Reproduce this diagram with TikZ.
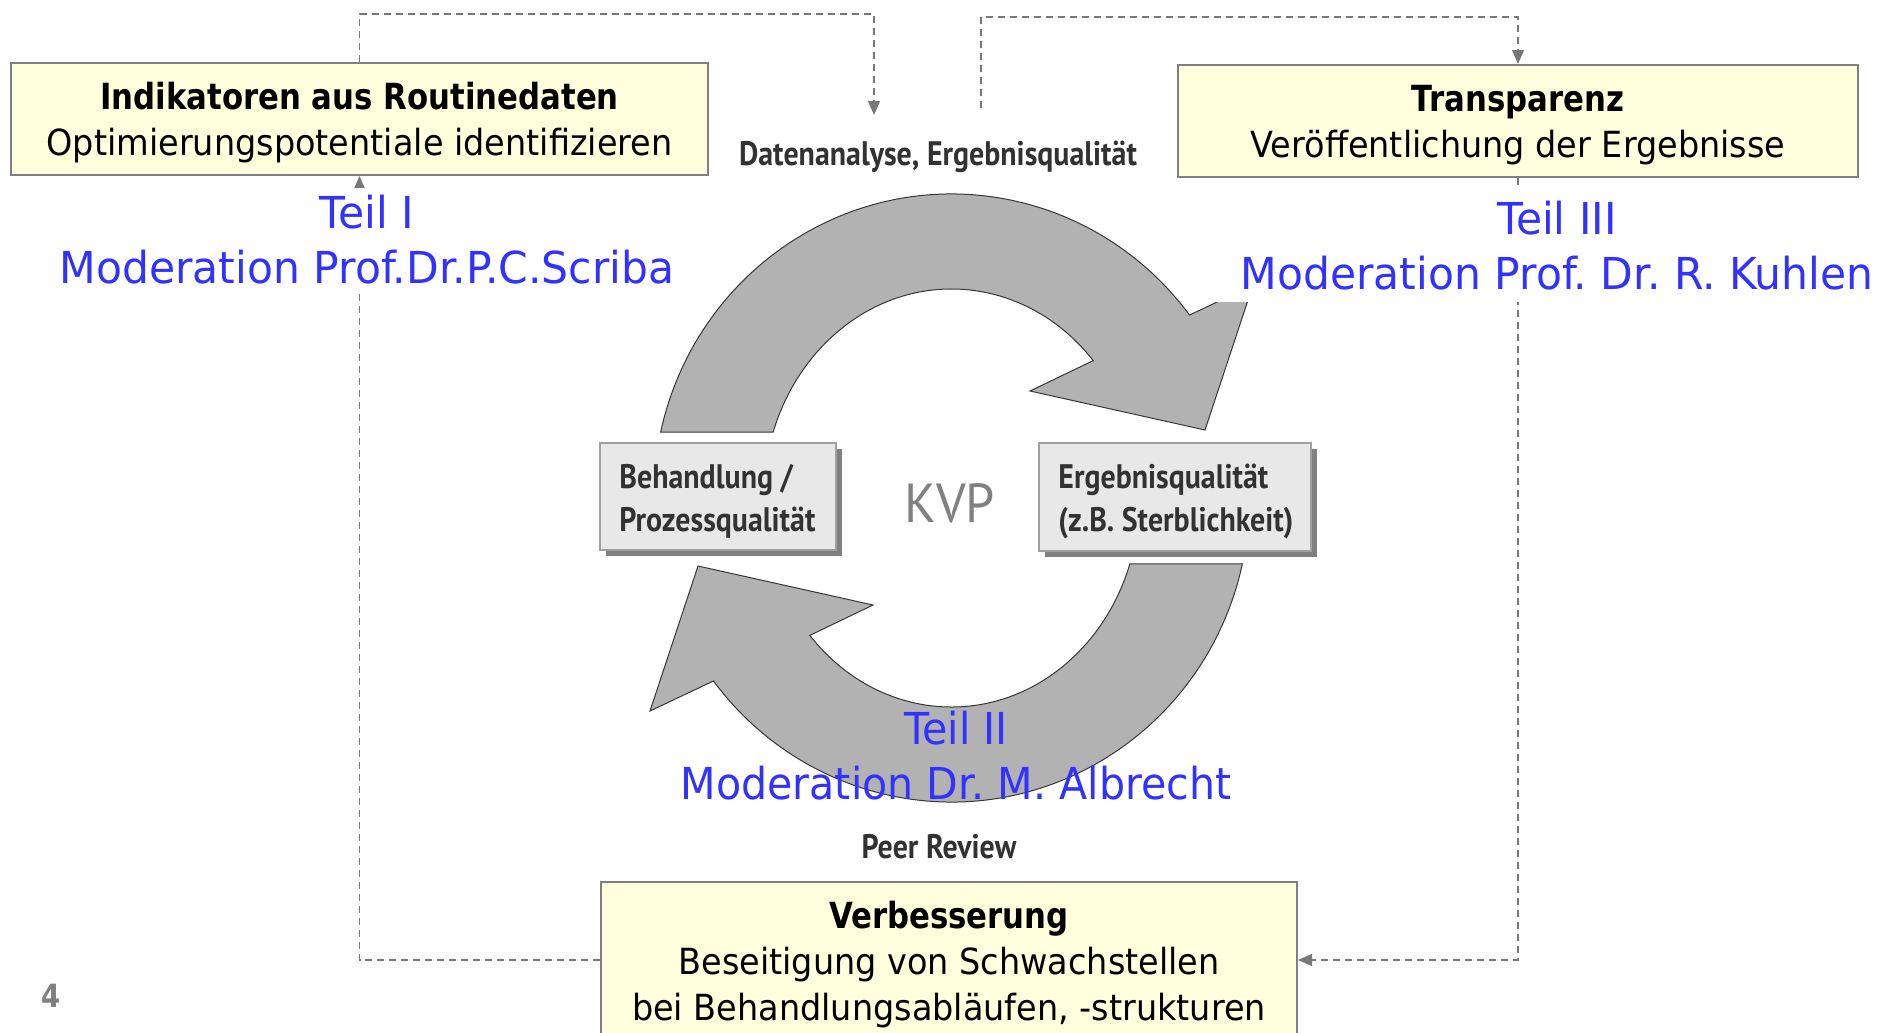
\documentclass[tikz,border=0pt]{standalone}
\usepackage{fontspec}
\setmainfont{DejaVu Sans}[FakeStretch=0.93]
\newfontfamily\tah{DejaVu Sans}[FakeStretch=0.93]
\newfontfamily\tahb{DejaVu Sans}[FakeStretch=0.855]
\newfontfamily\blu{DejaVu Sans}[FakeStretch=0.965]
\newfontfamily\bluii{DejaVu Sans}[FakeStretch=0.935]
\newfontfamily\myr{PT Sans}[FakeStretch=0.88]
\newfontfamily\kvpfont{PT Sans}[FakeStretch=0.95]
\usetikzlibrary{arrows.meta,shadows}
\definecolor{boxyellow}{RGB}{255,255,221}
\definecolor{boxborder}{RGB}{128,128,128}
\definecolor{smallfill}{RGB}{232,232,232}
\definecolor{smallborder}{RGB}{160,160,160}
\definecolor{shadowgray}{RGB}{128,128,128}
\definecolor{tealblue}{RGB}{50,50,255}
\definecolor{arrowfill}{RGB}{178,178,178}
\definecolor{arrowline}{RGB}{55,55,55}
\definecolor{dashgray}{RGB}{120,120,120}
\definecolor{labelgray}{RGB}{50,50,50}
\definecolor{kvpgray}{RGB}{128,128,128}
\begin{document}
\frenchspacing
\begin{tikzpicture}[x=0.5pt,y=-0.5pt,
  ybox/.style={draw=boxborder,line width=1pt,fill=boxyellow,inner sep=0pt},
  ytext/.style={inner sep=0pt,align=center,font={\tah\fontsize{18}{23}\selectfont}},
  smallbox/.style={draw=smallborder,line width=0.8pt,fill=smallfill,inner sep=0pt,
    drop shadow={shadow xshift=3pt,shadow yshift=-3pt,fill=shadowgray,opacity=1}},
  smalltext/.style={anchor=west,inner sep=0pt,align=left,
    font={\myr\bfseries\fontsize{17}{21.6}\selectfont},text=labelgray},
  bluetext/.style={text=tealblue,align=center,inner sep=0pt,font={\blu\fontsize{22}{27.5}\selectfont}},
  condlabel/.style={text=labelgray,inner sep=0pt,font={\myr\bfseries\fontsize{17}{20}\selectfont}},
  ringarrow/.style={fill=arrowfill,draw=arrowline,line width=0.5pt,line join=miter},
  dashline/.style={draw=dashgray,line width=0.6pt,dash pattern=on 3.5pt off 2.5pt},
  tip/.style={-{Triangle[length=7pt,width=6pt]}}
]
\useasboundingbox (0,0) rectangle (1890,1033);
\clip (0,0) rectangle (1890,1033);
\fill[white] (0,0) rectangle (1890,1033);

% main boxes
\node[ybox,minimum width=348.5pt,minimum height=56pt] (b1) at (359.5,119) {};
\node[ytext] (b1t) at (359.5,123)
  {{\tahb\bfseries Indikatoren aus Routinedaten}\\Optimierungspotentiale identifizieren};
\node[ybox,minimum width=340pt,minimum height=56pt] (b2) at (1518,121) {};
\node[ytext] (b2t) at (1518,125.5)
  {{\tahb\bfseries Transparenz}\\Veröffentlichung der Ergebnisse};
\node[ybox,minimum width=348pt,minimum height=78pt] (b3) at (949,960) {};
\node[ytext] (b3t) at (949,964.5)
  {{\tahb\bfseries Verbesserung}\\Beseitigung von Schwachstellen\\bei Behandlungsabläufen, -strukturen};

% dashed connectors
\coordinate (c1top) at (874,14);
\coordinate (c1) at (874,115);
\coordinate (d1) at (981,108);
\coordinate (d1top) at (981,17);
\draw[dashline,tip] (b1.north) |- (c1top) -- (c1);
\draw[dashline,tip] (d1) -- (d1top) -| (b2.north);
\draw[dashline,tip] (b2.south) |- (b3.east);
\draw[dashline,tip] (b3.west) -| (b1.south);

% ring arrows
\draw[ringarrow] (660.6,432.2) arc[start angle=192.5,end angle=323,x radius=298,y radius=304]
  -- (1253,285) -- (1205,430) -- (1030,391) -- (1093.2,360.6)
  arc[start angle=318.9,end angle=198.4,x radius=188,y radius=209] -- cycle;
\draw[ringarrow] (1242.4,563.8) arc[start angle=12.5,end angle=143,x radius=298,y radius=304]
  -- (650,711) -- (698,566) -- (873,605) -- (809.8,635.4)
  arc[start angle=138.9,end angle=18.4,x radius=188,y radius=209] -- cycle;

% small boxes
\node[smallbox,minimum width=118pt,minimum height=53.5pt] (bl) at (718,496.5) {};
\node[smalltext] (blt) at (619,501) {Behandlung /\\Prozessqualität};
\node[smallbox,minimum width=136pt,minimum height=54pt] (br) at (1175,497) {};
\node[smalltext] (brt) at (1058,501.5) {Ergebnisqualität\\(z.B. Sterblichkeit)};
\node[text=kvpgray,inner sep=0pt,font={\kvpfont\fontsize{27.5}{30}\selectfont}] (kvp) at (949.5,503.5) {KVP};

% labels
\node[condlabel] (dat) at (938,157) {Datenanalyse, Ergebnisqualität};
\node[condlabel] (peer) at (939,847) {Peer Review};

% moderation texts
\node[bluetext,fill=white,minimum width=330pt,minimum height=52pt] (t1) at (367,240)
  {Teil I\\Moderation Prof.Dr.P.C.Scriba};
\node[bluetext,fill=white,minimum width=352pt,minimum height=56pt] (t3) at (1557,246)
  {Teil III\\Moderation Prof. Dr. R. Kuhlen};
\node[bluetext,font={\bluii\fontsize{22}{27.5}\selectfont}] (t2) at (956,756)
  {Teil II\\Moderation Dr. M. Albrecht};

% page number
\node[text=kvpgray,inner sep=0pt,font={\tahb\bfseries\fontsize{16}{18}\selectfont}] (pg) at (51,996) {4};
\end{tikzpicture}
\end{document}
